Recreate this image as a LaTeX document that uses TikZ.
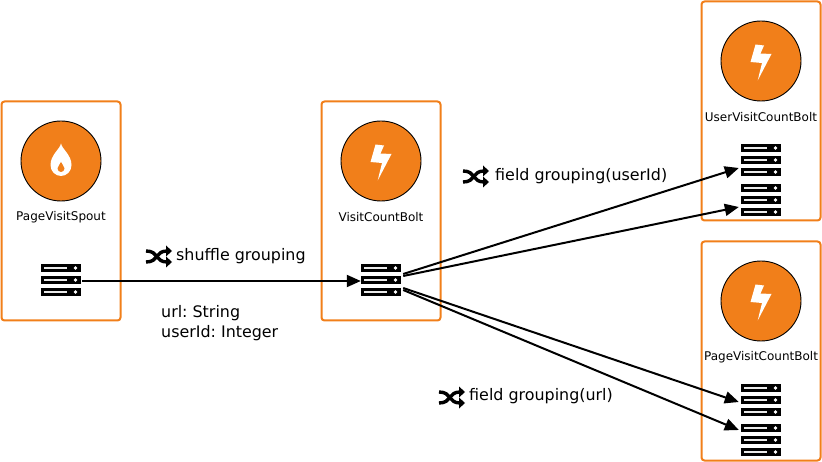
\documentclass[tikz,border=0pt]{standalone}
\usepackage{fontspec}
\setmainfont{DejaVu Sans}
\usetikzlibrary{arrows.meta}
\definecolor{stormorange}{HTML}{F17F1A}
\tikzset{
  x=1pt,y=-1pt,
  comp/.style={draw=stormorange,line width=2pt,rounded corners=3pt,minimum width=119pt,minimum height=219pt,inner sep=0pt},
  disc/.style={circle,draw=black,line width=0.9pt,fill=stormorange,minimum size=80pt,inner sep=0pt},
  namelabel/.style={font=\fontsize{12}{14}\selectfont,text=black,inner sep=0pt},
  lab/.style={font=\fontsize{15.9}{20}\selectfont\frenchspacing,text=black,inner sep=0pt,anchor=west,align=left},
  taskbox/.style={minimum width=40pt,minimum height=32pt,inner sep=0pt},
  conn/.style={line width=2pt,-{Triangle[length=14pt,width=12pt]}},
}
% server icon: three black bars with a white slot and a white dot
\newcommand{\serverbar}[2]{%
  \fill[black] (#1,#2) rectangle ++(40,8);
  \fill[white!92!black] (#1+3,#2+2.9) rectangle ++(23,2.3);
  \fill[white] (#1+34.5,#2+4) circle (1.9pt);
}
\newcommand{\taskicon}[3]{%
  \node[taskbox] (#1) at (#2+20,#3+16) {};
  \serverbar{#2}{#3}\serverbar{#2}{#3+12}\serverbar{#2}{#3+24}
}
\newcommand{\boltglyph}[2]{%
  \fill[white] (#1-5.5,#2-16.5) -- (#1+3,#2-15.5) -- (#1-0.5,#2-7.5) -- (#1+10.5,#2-7) -- (#1-3.3,#2+19.5) -- (#1+1,#2+2) -- (#1-10.5,#2+1) -- cycle;
}
\newcommand{\shuffleglyph}[2]{%
  \draw[black,line width=3.4pt] (#1,#2+5) .. controls (#1+13,#2+5) and (#1+9,#2+16) .. (#1+21,#2+16);
  \draw[black,line width=3.4pt] (#1,#2+16) .. controls (#1+13,#2+16) and (#1+9,#2+5) .. (#1+21,#2+5);
  \fill[black] (#1+20,#2-0.5) -- (#1+26,#2+5) -- (#1+20,#2+10.5) -- cycle;
  \fill[black] (#1+20,#2+10.5) -- (#1+26,#2+16) -- (#1+20,#2+21.5) -- cycle;
}
\begin{document}
\begin{tikzpicture}
\useasboundingbox (0,0) rectangle (822,462);
\node[comp] (spout) at (61,211) {};
\node[comp] (count) at (381,211) {};
\node[comp] (user) at (761,111) {};
\node[comp] (page) at (761,351) {};
\node[disc] (c1) at (61,161) {};
\node[disc] (c2) at (381,161) {};
\node[disc] (c3) at (761,61) {};
\node[disc] (c4) at (761,301) {};
\fill[white] (61,143.5) .. controls (62,149) and (71.5,155) .. (71.5,165) .. controls (71.5,171.5) and (66.5,176) .. (61,176) .. controls (55.5,176) and (50.5,171.5) .. (50.5,165) .. controls (50.5,155) and (60,149) .. (61,143.5) -- cycle;
\fill[stormorange] (61,162) .. controls (61.4,164) and (64.5,166) .. (64.5,168.5) .. controls (64.5,170.5) and (62.8,172) .. (61,172) .. controls (59.2,172) and (57.5,170.5) .. (57.5,168.5) .. controls (57.5,166) and (60.6,164) .. (61,162) -- cycle;
\boltglyph{381}{161}
\boltglyph{761}{61}
\boltglyph{761}{301}
\node[namelabel] (n1) at (61,217) {PageVisitSpout};
\node[namelabel] (n2) at (381,217) {VisitCountBolt};
\node[namelabel] (n3) at (761,117) {UserVisitCountBolt};
\node[namelabel] (n4) at (761,357) {PageVisitCountBolt};
\taskicon{t1}{41}{264}
\taskicon{t2}{361}{264}
\taskicon{u1}{741}{144}
\taskicon{u2}{741}{184}
\taskicon{p1}{741}{384}
\taskicon{p2}{741}{424}
\draw[conn] ([shift={(1pt,-1pt)}]t1.east) -- ([shift={(0pt,-1pt)}]t2.west);
\draw[conn] ([shift={(2pt,6pt)}]t2.east) -- ([shift={(-2pt,-8pt)}]u1.west);
\draw[conn] ([shift={(2pt,4pt)}]t2.east) -- ([shift={(-2pt,-7pt)}]u2.west);
\draw[conn] ([shift={(2pt,-8pt)}]t2.east) -- ([shift={(-2pt,-2pt)}]p1.west);
\draw[conn] ([shift={(2pt,-10pt)}]t2.east) -- ([shift={(-2pt,10pt)}]p2.west);
\shuffleglyph{146}{246}
\shuffleglyph{463}{166}
\shuffleglyph{439}{387}
\node[lab] (l1) at (176,256.5) {shuffle grouping};
\node[lab] (l2) at (161,323.5) {url: String\\userId: Integer};
\node[lab] (l3) at (495,176.5) {field grouping(userId)};
\node[lab] (l4) at (469,396.5) {field grouping(url)};
\end{tikzpicture}
\end{document}
